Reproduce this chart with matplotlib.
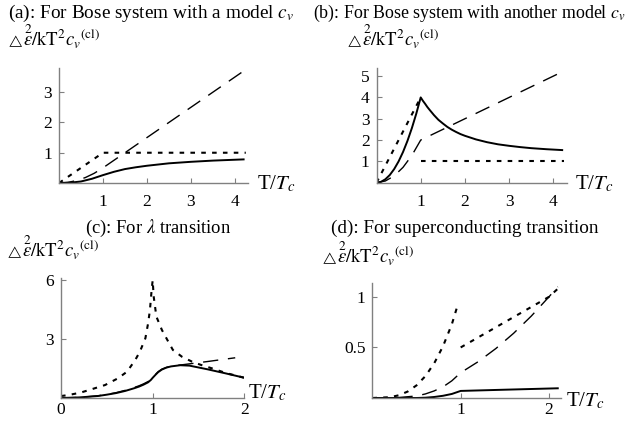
import matplotlib
matplotlib.use("Agg")
import matplotlib.pyplot as plt

plt.rcParams['font.family'] = ['Liberation Serif', 'DejaVu Serif']
plt.rcParams['mathtext.fontset'] = 'stix'

W, H = 637, 423

# ---------------- data ----------------
# (a) Bose system, model c_v
a_solid_x = [0, 0.25, 0.5, 0.75, 1.0, 1.25, 1.5, 1.75, 2.0, 2.5, 3.0, 3.5, 4.2]
a_solid_y = [0, 0.01, 0.05, 0.14, 0.26, 0.37, 0.46, 0.52, 0.57, 0.65, 0.70, 0.74, 0.78]
a_dash_x = [0, 0.2, 0.4, 0.6, 0.8, 1.0, 4.2]
a_dash_y = [0, 0.02, 0.08, 0.18, 0.32, 0.5, 3.7]
a_dot_x = [0, 1.0, 4.25]
a_dot_y = [0, 1.0, 1.0]

# (b) Bose system, another model c_v
b_solid_x = [0, 0.1, 0.2, 0.3, 0.4, 0.5, 0.6, 0.7, 0.8, 0.9, 1.0,
             1.05, 1.1, 1.15, 1.2, 1.3, 1.4, 1.5, 1.6, 1.7, 1.8, 1.9, 2.0,
             2.25, 2.5, 2.75, 3.0, 3.25, 3.5, 3.85, 4.2]
b_solid_y = [0, 0.04, 0.16, 0.36, 0.64, 1.0, 1.44, 1.96, 2.56, 3.24, 4.0,
             3.84, 3.7, 3.55, 3.42, 3.17, 2.95, 2.78, 2.62, 2.49, 2.38, 2.28, 2.2,
             2.03, 1.9, 1.8, 1.73, 1.67, 1.62, 1.57, 1.53]
b_dash_x = [0, 0.2, 0.4, 0.6, 0.8, 1.0, 4.2]
b_dash_y = [0, 0.08, 0.32, 0.72, 1.28, 2.0, 5.2]
b_dot1_x = [0, 0.95]
b_dot1_y = [0, 3.8]
b_dot2_x = [1.0, 4.25]
b_dot2_y = [1.0, 1.0]

# (c) lambda transition
c_solid_x = [0, 0.2, 0.4, 0.5, 0.6, 0.7, 0.8, 0.85, 0.9, 0.95, 0.98, 1.0, 1.03, 1.06, 1.1,
             1.15, 1.2, 1.3, 1.4, 1.6, 1.8, 2.0]
c_solid_y = [0, 0.03, 0.1, 0.17, 0.25, 0.36, 0.5, 0.58, 0.68, 0.8, 0.92, 1.03, 1.18, 1.32, 1.45,
             1.55, 1.61, 1.67, 1.65, 1.46, 1.25, 1.03]
c_dash_x = [0, 0.2, 0.4, 0.5, 0.6, 0.7, 0.8, 0.85, 0.9, 0.95, 0.98, 1.0, 1.03, 1.06, 1.1,
            1.15, 1.2, 1.3, 1.6, 1.9]
c_dash_y = [0, 0.03, 0.11, 0.18, 0.27, 0.39, 0.54, 0.62, 0.72, 0.84, 0.95, 1.06, 1.2, 1.34, 1.47,
            1.56, 1.62, 1.68, 1.86, 2.05]
c_dot_x = [0, 0.08, 0.21, 0.33, 0.48, 0.62, 0.72, 0.81, 0.86, 0.92, 0.95, 0.97, 0.99, 1.0,
           1.01, 1.04, 1.1, 1.17, 1.22, 1.32, 1.43, 1.53, 1.64, 1.8, 2.0]
c_dot_y = [0.1, 0.15, 0.27, 0.44, 0.66, 1.0, 1.34, 1.94, 2.36, 3.04, 3.81, 4.49, 5.6, 6.0,
           5.2, 4.15, 3.47, 2.87, 2.45, 2.1, 1.85, 1.68, 1.52, 1.27, 1.03]

# (d) superconducting transition
d_solid_x = [0, 0.5, 0.6, 0.7, 0.8, 0.9, 1.0, 1.5, 2.1]
d_solid_y = [0, 0.0, 0.003, 0.01, 0.022, 0.04, 0.07, 0.082, 0.096]
d_dash_x = [0, 0.3, 0.5, 0.6, 0.7, 0.8, 0.9, 1.0, 1.2, 1.4, 1.6, 1.8, 2.0, 2.1]
d_dash_y = [0, 0.005, 0.02, 0.04, 0.07, 0.11, 0.17, 0.25, 0.36, 0.49, 0.64, 0.81, 1.0, 1.1]
d_dot1_x = [0, 0.2, 0.3, 0.4, 0.5, 0.6, 0.7, 0.8, 0.9, 0.97]
d_dot1_y = [0, 0.008, 0.027, 0.064, 0.125, 0.216, 0.343, 0.512, 0.729, 0.93]
d_dot2_x = [1.0, 1.2, 1.4, 1.6, 1.8, 2.0, 2.1]
d_dot2_y = [0.5, 0.6, 0.7, 0.8, 0.9, 1.0, 1.08]

titles = [r"(a): For Bose system with a model $c_v$",
          r"(b): For Bose system with another model $c_v$",
          r"(c): For $\lambda$ transition",
          r"(d): For superconducting transition"]
ylabel_tri = r"$\triangle$"
ylabel_rest = r"$\overset{2}{\epsilon}/\mathrm{kT}^2c_v{}^{\mathrm{(cl)}}$"
xlabel = r"T/$T_c$"

a_xticks, a_yticks = [1, 2, 3, 4], [1, 2, 3]
b_xticks, b_yticks = [1, 2, 3, 4], [1, 2, 3, 4, 5]
c_xticks, c_yticks = [0, 1, 2], [3, 6]
d_xticks, d_yticks = [1, 2], [0.5, 1]
d_yticklabels = ["0.5", "1"]

# ---------------- figure ----------------
fig = plt.figure(figsize=(W / 100, H / 100), dpi=100)


def add_ax(l, r, t, b):
    return fig.add_axes([l / W, 1 - b / H, (r - l) / W, (b - t) / H])


def ftext(x, y, s, **kw):
    fig.text(x / W, 1 - y / H, s, **kw)


GRAY = '#808080'
SOLID = dict(color='black', lw=1.4)
DASH = dict(color='black', lw=1.0, dashes=(11, 7))
DOT = dict(color='black', lw=1.5, dashes=(2.2, 3.0))


def style(ax, xlim, ylim, xt, yt, ytl=None, xpad=8):
    ax.set_xlim(*xlim)
    ax.set_ylim(*ylim)
    for s in ['top', 'right']:
        ax.spines[s].set_visible(False)
    for s in ['left', 'bottom']:
        ax.spines[s].set_color(GRAY)
        ax.spines[s].set_linewidth(1.0)
    ax.set_xticks(xt)
    ax.set_yticks(yt)
    if ytl is not None:
        ax.set_yticklabels(ytl)
    ax.tick_params(direction='in', length=3.5, width=0.8, color=GRAY,
                   labelsize=12.5, pad=5)
    ax.tick_params(axis='x', pad=xpad)
    ax.patch.set_alpha(0)


axa = add_ax(59, 248, 68, 183)
axa.plot(a_solid_x, a_solid_y, **SOLID)
axa.plot(a_dash_x, a_dash_y, **DASH)
axa.plot(a_dot_x, a_dot_y, **DOT)
style(axa, (0, 4.3), (0, 3.8), a_xticks, a_yticks)

axb = add_ax(376.5, 566.6, 68, 182.7)
axb.plot(b_solid_x, b_solid_y, **SOLID)
axb.plot(b_dash_x, b_dash_y, **DASH)
axb.plot(b_dot1_x, b_dot1_y, **DOT)
axb.plot(b_dot2_x, b_dot2_y, **DOT)
style(axb, (0, 4.3), (0, 5.38), b_xticks, b_yticks)

axc = add_ax(61, 244.4, 278.3, 398)
axc.plot(c_solid_x, c_solid_y, **SOLID)
axc.plot(c_dash_x, c_dash_y, **DASH)
axc.plot(c_dot_x, c_dot_y, **DOT)
style(axc, (0, 2.0), (0, 6.1), c_xticks, c_yticks, xpad=3)

axd = add_ax(372.4, 561.3, 282.7, 398)
axd.plot(d_solid_x, d_solid_y, **SOLID)
axd.plot(d_dash_x, d_dash_y, **DASH)
axd.plot(d_dot1_x, d_dot1_y, **DOT)
axd.plot(d_dot2_x, d_dot2_y, **DOT)
style(axd, (0, 2.14), (0, 1.14), d_xticks, d_yticks, d_yticklabels, xpad=3)

ftext(8, 13, titles[0], fontsize=13.9, va='center', ha='left')
ftext(313, 13, titles[1], fontsize=12.9, va='center', ha='left')
ftext(85, 228, titles[2], fontsize=13.4, va='center', ha='left')
ftext(331, 228, titles[3], fontsize=13.8, va='center', ha='left')


def ylab(x, yb):
    ftext(x, yb - 1, ylabel_tri, fontsize=8.5, va='baseline', ha='left')
    ftext(x + 16, yb, ylabel_rest, fontsize=13.5, va='baseline', ha='left')


ylab(7, 46)
ylab(346, 46)
ylab(6, 257)
ylab(321, 263)

XS = 15
ftext(257, 184, xlabel, fontsize=XS, va='center', ha='left')
ftext(575, 184, xlabel, fontsize=XS, va='center', ha='left')
ftext(248, 393, xlabel, fontsize=XS, va='center', ha='left')
ftext(566, 401, xlabel, fontsize=XS, va='center', ha='left')

fig.savefig("out.png", dpi=100)
